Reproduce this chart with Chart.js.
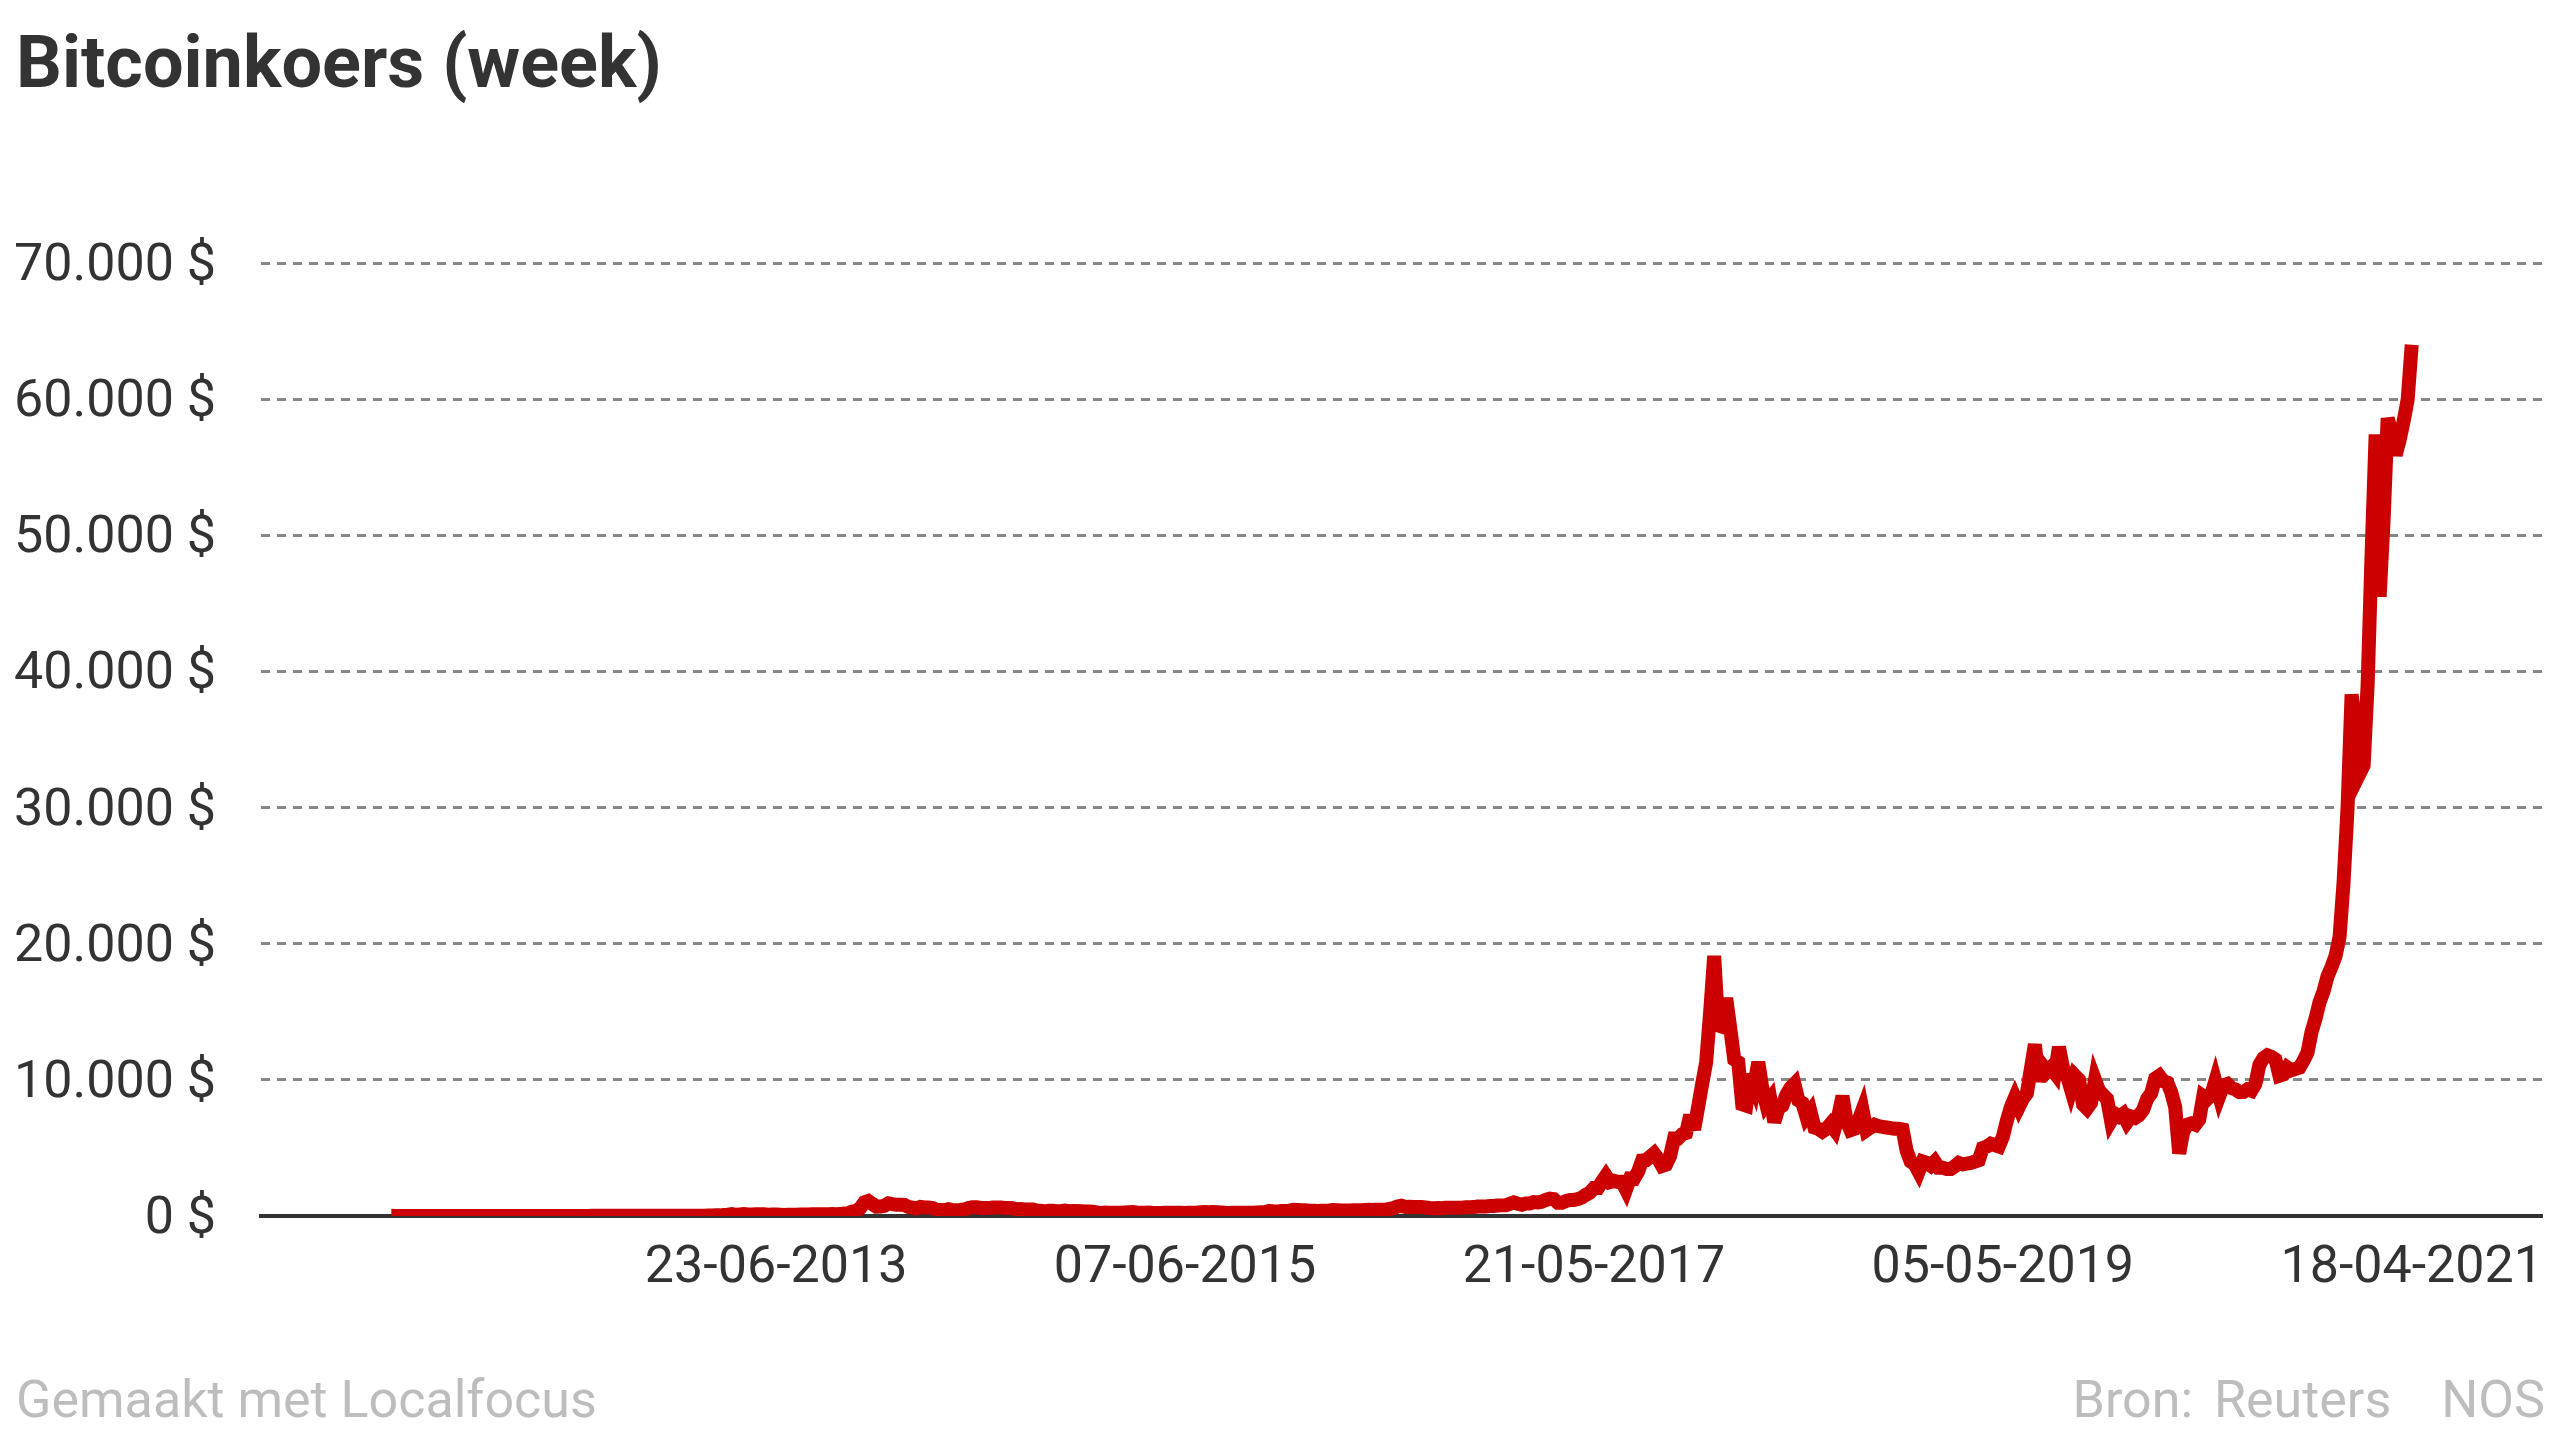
<!DOCTYPE html>
<html>
<head>
<meta charset="utf-8">
<script src="https://cdn.jsdelivr.net/npm/chart.js@4.4.1/dist/chart.umd.min.js"></script>
<style>
  html, body { margin: 0; padding: 0; background: #ffffff; }
  body { width: 2560px; height: 1440px; position: relative; overflow: hidden; font-family: Roboto, "Noto Sans", sans-serif; }
  #wrap { position: absolute; left: 0; top: 0; width: 2560px; height: 1440px; }
  #title { position: absolute; left: 16px; top: 27px; font: 700 72px/1 Roboto, sans-serif; color: #333333; white-space: nowrap; z-index: 2; }
  .foot { position: absolute; top: 1374px; font: 400 52px/1 Roboto, sans-serif; color: #bdbdbd; white-space: nowrap; z-index: 2; }
  #footL { left: 16px; }
  #footR { right: 15px; }
  #footR .src { margin-left: 8px; }
  #footR .org { margin-left: 50px; }
</style>
</head>
<body>
<div id="wrap"><canvas id="c" width="2560" height="1440"></canvas></div>
<div id="title">Bitcoinkoers (week)</div>
<div class="foot" id="footL">Gemaakt met Localfocus</div>
<div class="foot" id="footR"><span>Bron:</span> <span class="src">Reuters</span><span class="org">NOS</span></div>
<script>
// Weekly series (one value per week, starting Sunday 21-08-2011), in US dollars
const firstWeek = "21-08-2011";
const w2011 = [11.5, 8.9, 7.9, 5.9, 5.3, 5.3, 5.0, 4.0, 3.7, 3.2, 3.3, 3.0, 2.3, 2.4, 2.6, 2.9, 3.2, 3.5, 4.2];
const w2012 = [5.3, 6.8, 6.5, 6.3, 5.9, 5.6, 5.5, 4.5, 4.9, 4.9, 4.9, 5.3, 4.7, 4.9, 4.9, 5.0, 5.1, 5.0, 5.1, 5.0, 5.1, 5.1, 5.3, 5.5, 6.3, 6.5, 6.7, 7.0, 7.6, 8.6, 8.9, 10.8, 11.6, 10.0, 10.6, 10.3, 11.0, 12.0, 12.3, 12.4, 12.0, 11.8, 11.6, 10.6, 10.9, 11.0, 11.8, 12.5, 12.6, 13.5, 13.3, 13.4, 13.5];
const w2013 = [13.4, 14.2, 16.9, 18.3, 20.6, 24.0, 27.0, 31.0, 37, 47, 47, 72, 93, 142, 90, 120, 138, 115, 117, 123, 133, 122, 101, 103, 109, 97, 76, 94, 91, 96, 105, 106, 112, 122, 137, 127, 134, 134, 141, 136, 139, 180, 202, 330, 375, 585, 1000, 1100, 890, 690, 700, 750];
const w2014 = [930, 870, 830, 830, 810, 660, 620, 560, 670, 630, 630, 580, 460, 450, 420, 500, 440, 430, 440, 490, 580, 650, 650, 590, 590, 580, 630, 630, 620, 590, 590, 570, 500, 510, 480, 480, 475, 400, 380, 330, 390, 385, 355, 350, 400, 350, 375, 375, 350, 330, 330, 315];
const w2015 = [265, 210, 250, 240, 230, 230, 235, 255, 275, 285, 260, 245, 245, 255, 220, 225, 225, 240, 240, 240, 235, 230, 225, 235, 245, 250, 270, 290, 280, 290, 280, 265, 235, 225, 230, 240, 230, 230, 235, 240, 255, 270, 285, 375, 330, 325, 365, 375, 390, 460, 440, 420];
const w2016 = [430, 380, 380, 375, 380, 385, 405, 440, 430, 410, 410, 410, 415, 420, 425, 440, 460, 450, 455, 450, 450, 530, 580, 690, 750, 660, 680, 660, 665, 655, 625, 590, 575, 580, 575, 610, 610, 610, 605, 615, 640, 640, 655, 700, 705, 705, 730, 735, 765, 780, 790, 895];
const w2017 = [1000, 900, 830, 920, 920, 1020, 1000, 1050, 1180, 1270, 1230, 970, 970, 1100, 1180, 1180, 1240, 1350, 1560, 1720, 2050, 2050, 2520, 2950, 2500, 2590, 2500, 2520, 1930, 2750, 2730, 3250, 4070, 4100, 4350, 4600, 4200, 3680, 3780, 4400, 5700, 5700, 6000, 6100, 7400, 6350, 8000, 9700, 11300, 15000, 19100, 14000, 13900];
const w2018 = [16000, 13800, 11500, 11300, 8200, 8100, 10400, 9600, 11300, 9400, 8200, 8600, 6900, 7900, 8100, 8900, 9400, 9700, 8500, 8300, 7300, 7700, 6500, 6400, 6200, 6400, 6750, 6350, 7400, 8800, 7000, 6300, 6400, 7000, 7800, 6300, 6500, 6700, 6600, 6550, 6500, 6450, 6400, 6400, 6350, 4800, 4000, 3800, 3250, 4000, 3900, 3700];
const w2019 = [4000, 3550, 3550, 3450, 3450, 3650, 3900, 3800, 3850, 3900, 4000, 4100, 5000, 5100, 5300, 5200, 5100, 5800, 7000, 8000, 8700, 8000, 8600, 9000, 10800, 12600, 9900, 11000, 10600, 10900, 10500, 12400, 10900, 10300, 9300, 10300, 10000, 8200, 7900, 8300, 10000, 9200, 8900, 8600, 7000, 7500, 7300, 7500, 6900, 7300, 7200, 7400];
const w2020 = [7800, 8600, 9000, 10100, 10300, 9900, 9800, 9100, 8000, 4600, 6200, 6700, 6800, 6700, 7100, 8800, 8600, 8900, 9900, 8800, 9600, 9700, 9400, 9300, 9100, 9100, 9300, 9200, 9700, 11100, 11600, 11800, 11700, 11500, 10300, 10400, 10900, 10700, 10800, 10900, 11400, 12000, 13500, 14500, 15700, 16500, 17600, 18300, 19100, 20500, 24500, 30000];
const w2021 = [38300, 36000, 32500, 33100, 39000, 48700, 57400, 45500, 51200, 58600, 57500, 55900, 57000, 58400, 60000, 64000];

// Axis ticks
const xTickLabels = ["23-06-2013", "07-06-2015", "21-05-2017", "05-05-2019", "18-04-2021"];
const xTickWeeks = [96, 198, 300, 402, 504];
const yTicks = [0, 10000, 20000, 30000, 40000, 50000, 60000, 70000];

const values = [].concat(w2011, w2012, w2013, w2014, w2015, w2016, w2017, w2018, w2019, w2020, w2021);
const points = values.map((v, i) => ({ x: i, y: v }));

function fmtDollar(v) {
  return String(v).replace(/\B(?=(\d{3})+(?!\d))/g, '.') + ' $';
}

const miterPlugin = {
  id: 'miter',
  beforeDatasetsDraw(chart) { chart.ctx.miterLimit = 4; }
};

const tickFont = { family: 'Roboto', size: 52, weight: '400' };

new Chart(document.getElementById('c'), {
  type: 'line',
  data: {
    datasets: [{
      data: points,
      borderColor: '#cc0000',
      backgroundColor: '#cc0000',
      borderWidth: 14,
      borderJoinStyle: 'miter',
      borderCapStyle: 'butt',
      pointRadius: 0,
      pointHoverRadius: 0,
      tension: 0,
      fill: false
    }]
  },
  plugins: [miterPlugin],
  options: {
    responsive: false,
    maintainAspectRatio: false,
    animation: false,
    devicePixelRatio: 1,
    layout: { padding: { top: 263, right: 18, left: 0, bottom: 0 } },
    plugins: { legend: { display: false }, tooltip: { enabled: false }, title: { display: false } },
    scales: {
      x: {
        type: 'linear',
        min: -32.5,
        max: 536.5,
        afterBuildTicks: (s) => { s.ticks = xTickWeeks.map(v => ({ value: v })); },
        afterFit: (s) => { s.height = 224; s.paddingLeft = 0; s.paddingRight = 0; },
        grid: { display: false, drawTicks: false },
        border: { display: true, color: '#333333', width: 4 },
        ticks: {
          autoSkip: false, maxRotation: 0, minRotation: 0, padding: 22,
          color: '#333333', font: tickFont,
          callback: (v) => { const k = xTickWeeks.indexOf(v); return k >= 0 ? xTickLabels[k] : ''; }
        }
      },
      y: {
        min: 0,
        max: 70000,
        afterBuildTicks: (s) => { s.ticks = yTicks.map(v => ({ value: v })); },
        afterFit: (s) => { s.width = 261; s.paddingTop = 0; s.paddingBottom = 0; },
        grid: {
          drawTicks: false,
          lineWidth: 3,
          color: (c) => (c.tick && c.tick.value === 0) ? 'rgba(0,0,0,0)' : '#888888'
        },
        border: { display: false, dash: [9, 7] },
        ticks: { padding: 45, labelOffset: 4, color: '#333333', font: tickFont, callback: (v) => fmtDollar(v) }
      }
    }
  }
});
</script>
</body>
</html>
